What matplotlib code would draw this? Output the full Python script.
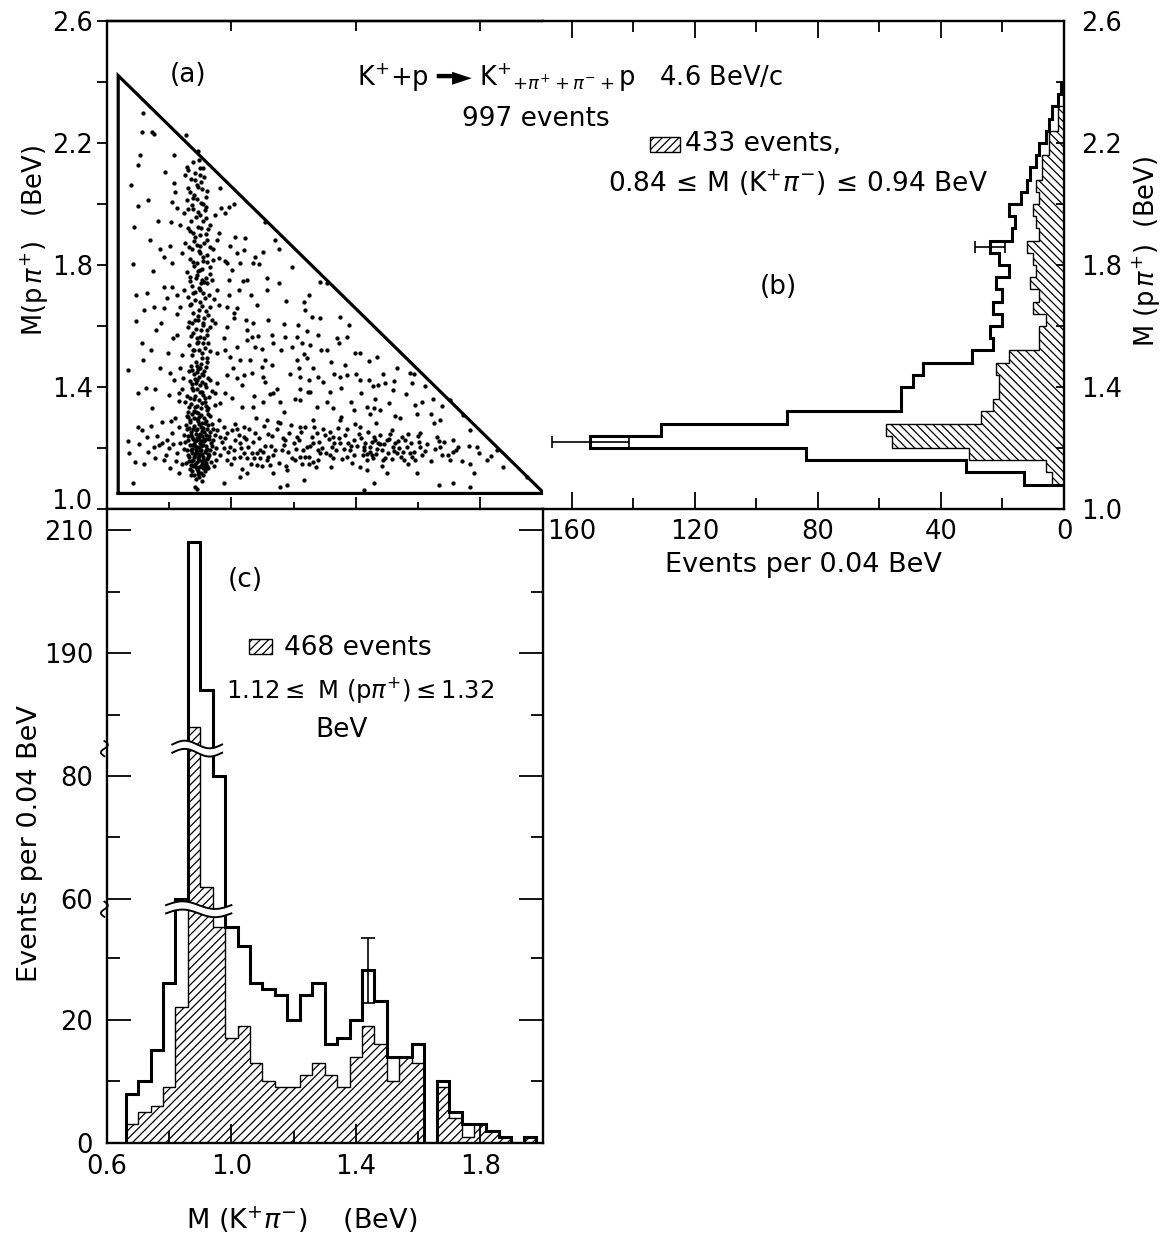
import numpy as np
import matplotlib
matplotlib.use("Agg")
import matplotlib.pyplot as plt
from matplotlib.patches import Rectangle
from matplotlib.ticker import FixedLocator, FixedFormatter, NullFormatter

W, H = 1168, 1237
plt.rcParams['font.family'] = ['DejaVu Sans']
plt.rcParams['mathtext.fontset'] = 'dejavusans'
plt.rcParams['hatch.linewidth'] = 0.9

# ---------------- data ----------------
# Dalitz-type plot: (M(K+pi-), M(p pi+)) in BeV
dalitz_points = [
    (0.717, 2.297), (0.712, 2.237), (0.744, 2.237), (0.752, 2.229), (0.855, 2.226), (0.707, 2.160),
    (0.814, 2.160), (0.892, 2.175), (0.895, 2.144), (0.878, 2.139), (0.701, 2.128),
    (0.862, 2.111), (0.851, 2.095), (0.910, 2.117), (0.900, 2.095), (0.884, 2.079), (0.894, 2.057),
    (0.905, 2.048), (0.814, 2.068), (0.819, 2.040), (0.808, 2.007), (0.825, 1.986), (0.857, 2.013),
    (0.891, 2.018), (0.910, 2.000), (0.919, 1.991), (0.900, 1.964), (0.919, 1.953), (0.948, 1.964),
    (0.966, 1.986), (0.991, 1.991), (1.007, 2.000), (0.980, 1.971), (0.932, 1.931), (0.699, 1.994),
    (0.867, 2.040), (0.846, 1.969), (0.878, 1.982), (0.894, 1.926), (0.835, 1.931), (0.859, 1.920),
    (0.878, 1.904), (0.900, 1.898), (0.921, 1.882), (0.953, 1.882), (0.959, 1.904), (0.889, 1.865),
    (0.851, 1.871), (0.932, 1.860), (0.771, 1.854), (0.841, 1.838), (0.782, 1.827), (0.808, 1.805),
    (0.900, 1.838), (0.910, 1.827), (0.889, 1.805), (0.921, 1.811), (0.942, 1.816), (0.959, 1.822),
    (0.985, 1.805), (1.001, 1.783), (1.028, 1.805), (1.018, 1.838), (1.044, 1.887), (1.039, 1.849),
    (1.076, 1.827), (1.103, 1.844), (1.109, 1.940), (1.141, 1.882), (1.152, 1.854), (1.194, 1.794),
    (1.071, 1.805), (0.900, 1.783), (0.905, 1.751), (0.921, 1.740), (0.937, 1.751), (0.953, 1.718),
    (0.900, 1.718), (0.878, 1.707), (0.910, 1.707), (0.728, 1.707), (0.792, 1.691), (0.825, 1.701),
    (0.808, 1.729), (0.846, 1.718), (1.114, 1.756), (1.114, 1.718), (1.286, 1.745), (1.307, 1.740),
    (0.867, 1.762), (0.889, 1.767), (0.932, 1.794), (0.991, 1.751), (1.023, 1.718), (1.050, 1.751),
    (0.750, 1.663), (0.782, 1.658), (0.835, 1.663), (0.867, 1.669), (0.900, 1.680), (0.932, 1.663),
    (0.959, 1.669), (0.985, 1.663), (1.007, 1.641), (1.018, 1.658), (1.082, 1.669), (1.232, 1.680),
    (1.237, 1.652), (1.259, 1.630), (1.286, 1.625), (1.348, 1.630), (1.377, 1.603), (1.371, 1.565),
    (0.825, 1.570), (0.873, 1.609), (0.894, 1.620), (0.910, 1.609), (0.921, 1.587), (0.900, 1.565),
    (0.889, 1.543), (0.910, 1.543), (0.932, 1.598), (0.948, 1.609), (0.985, 1.598), (1.007, 1.625),
    (1.050, 1.587), (1.066, 1.565), (1.050, 1.554), (1.076, 1.532), (1.135, 1.543), (1.130, 1.570),
    (1.173, 1.565), (1.210, 1.565), (1.227, 1.543), (1.253, 1.537), (1.307, 1.521), (1.345, 1.543),
    (1.414, 1.510), (1.468, 1.499), (0.717, 1.488), (0.841, 1.505), (0.878, 1.521), (0.905, 1.510),
    (0.921, 1.494), (0.953, 1.510), (0.980, 1.521), (0.996, 1.499), (1.028, 1.488), (1.109, 1.488),
    (1.210, 1.488), (1.243, 1.494),
    (0.669, 1.455), (0.803, 1.445), (0.835, 1.461), (0.873, 1.455), (0.889, 1.450), (0.900, 1.461),
    (0.910, 1.439), (0.889, 1.423), (0.900, 1.406), (0.878, 1.390), (0.905, 1.384), (0.841, 1.395),
    (0.830, 1.379), (0.755, 1.395), (0.701, 1.379), (0.744, 1.330), (0.798, 1.374), (0.932, 1.423),
    (0.953, 1.412), (0.948, 1.379), (0.980, 1.379), (0.964, 1.346), (1.001, 1.363), (0.985, 1.439),
    (1.018, 1.428), (1.039, 1.439), (1.066, 1.445), (1.098, 1.466), (1.109, 1.417), (1.135, 1.379),
    (1.157, 1.352), (1.168, 1.319), (1.216, 1.461), (1.221, 1.434), (1.248, 1.423), (1.221, 1.395),
    (1.253, 1.384), (1.280, 1.434), (1.318, 1.384), (1.350, 1.434), (1.371, 1.439), (1.414, 1.423),
    (1.441, 1.423), (1.473, 1.406), (1.495, 1.412), (1.521, 1.390), (1.575, 1.445), (1.580, 1.412),
    (1.612, 1.352), (1.436, 1.335), (1.457, 1.330), (1.478, 1.324), (1.328, 1.330), (1.275, 1.335),
    (1.221, 1.357), (1.103, 1.352), (1.071, 1.335), (1.034, 1.335), (0.905, 1.346), (0.884, 1.335),
    (0.916, 1.363), (0.867, 1.363), (0.926, 1.330),
    (0.691, 1.155), (0.701, 1.270), (0.712, 1.259), (0.728, 1.237), (0.733, 1.188), (0.750, 1.204),
    (0.755, 1.166), (0.766, 1.210), (0.776, 1.286), (0.776, 1.215), (0.792, 1.226), (0.798, 1.199),
    (0.808, 1.248), (0.819, 1.297), (0.825, 1.182), (0.835, 1.215), (0.841, 1.149), (0.685, 1.084),
    (0.782, 1.160), (0.803, 1.133), (0.830, 1.117),
    (0.959, 1.292), (0.975, 1.270), (0.964, 1.237), (0.985, 1.248), (1.001, 1.259), (1.012, 1.226),
    (1.028, 1.215), (1.039, 1.237), (1.055, 1.204), (1.066, 1.182), (1.050, 1.166), (1.082, 1.182),
    (1.093, 1.166), (1.103, 1.188), (1.114, 1.160), (1.125, 1.144), (1.135, 1.177), (1.162, 1.193),
    (1.173, 1.226), (1.200, 1.215), (1.210, 1.237), (1.221, 1.171), (1.227, 1.149), (1.243, 1.204),
    (1.264, 1.215), (1.275, 1.248), (1.280, 1.193), (1.286, 1.182), (1.318, 1.253), (1.323, 1.204),
    (1.328, 1.237), (1.350, 1.215), (1.371, 1.171), (1.382, 1.193), (1.393, 1.226), (1.414, 1.270),
    (1.425, 1.193), (1.436, 1.160), (1.446, 1.204), (1.452, 1.177), (1.457, 1.237), (1.473, 1.215),
    (1.484, 1.193), (1.489, 1.160), (1.500, 1.226), (1.521, 1.204), (1.532, 1.182), (1.548, 1.237),
    (1.554, 1.160), (1.564, 1.204), (1.575, 1.182), (1.591, 1.160), (1.596, 1.117), (1.607, 1.204),
    (1.661, 1.237), (1.671, 1.204), (1.677, 1.177), (1.704, 1.160), (1.714, 1.226), (1.730, 1.204),
    (1.768, 1.259), (1.789, 1.204), (1.822, 1.160), (1.854, 1.193), (1.950, 1.106), (1.650, 1.281),
    (1.607, 1.248), (1.516, 1.259), (1.414, 1.139), (1.436, 1.128), (1.500, 1.117), (1.328, 1.166),
    (1.264, 1.155), (1.178, 1.128), (1.135, 1.117), (1.082, 1.144), (1.028, 1.171), (1.007, 1.193),
    (0.985, 1.160), (0.975, 1.199), (0.953, 1.259), (1.039, 1.270), (1.114, 1.292), (1.157, 1.281),
    (1.221, 1.270), (1.264, 1.292), (1.350, 1.292), (1.393, 1.324), (1.446, 1.313), (1.543, 1.297),
    (1.596, 1.313), (1.671, 1.292), (1.746, 1.308), (1.768, 1.149), (1.779, 1.117), (1.666, 1.078),
    (1.714, 1.084), (1.768, 1.073), (1.425, 1.062), (1.457, 1.084), (1.157, 1.073), (1.178, 1.078),
    (1.232, 1.095), (0.975, 1.084), (1.028, 1.106), (1.050, 1.117), (0.884, 1.073), (0.891, 1.066),
    (0.862, 1.301), (0.874, 1.312), (0.889, 1.296), (0.903, 1.308), (0.918, 1.290), (0.931, 1.304),
    (0.868, 1.284), (0.881, 1.271), (0.896, 1.279), (0.909, 1.266), (0.924, 1.275), (0.942, 1.262),
    (0.856, 1.262), (0.871, 1.251), (0.885, 1.258), (0.899, 1.245), (0.913, 1.252), (0.927, 1.239),
    (0.947, 1.244), (0.861, 1.238), (0.876, 1.228), (0.890, 1.234), (0.905, 1.222), (0.919, 1.229),
    (0.934, 1.217), (0.852, 1.219), (0.866, 1.209), (0.880, 1.214), (0.894, 1.203), (0.908, 1.210),
    (0.923, 1.198), (0.938, 1.206), (0.858, 1.192), (0.872, 1.185), (0.886, 1.190), (0.900, 1.180),
    (0.914, 1.187), (0.929, 1.176), (0.945, 1.183), (0.864, 1.170), (0.878, 1.162), (0.892, 1.168),
    (0.906, 1.157), (0.920, 1.164), (0.935, 1.153), (0.853, 1.150), (0.869, 1.143), (0.883, 1.148),
    (0.897, 1.138), (0.911, 1.145), (0.926, 1.133), (0.874, 1.125), (0.888, 1.130), (0.902, 1.119),
    (0.916, 1.126), (0.880, 1.110), (0.895, 1.105),
    (0.867, 1.293), (0.893, 1.288), (0.912, 1.298), (0.878, 1.262), (0.902, 1.268), (0.932, 1.252),
    (0.870, 1.243), (0.895, 1.240), (0.917, 1.244), (0.883, 1.222), (0.898, 1.215), (0.912, 1.231),
    (0.873, 1.197), (0.887, 1.201), (0.903, 1.195), (0.917, 1.205), (0.931, 1.192), (0.859, 1.178),
    (0.882, 1.176), (0.896, 1.173), (0.909, 1.170), (0.925, 1.181), (0.874, 1.156), (0.889, 1.153),
    (0.904, 1.149), (0.917, 1.152), (0.866, 1.131), (0.893, 1.124), (0.908, 1.134), (0.921, 1.140),
    (0.885, 1.183), (0.899, 1.192), (0.876, 1.210), (0.891, 1.226), (0.907, 1.238), (0.885, 1.247),
    (0.906, 1.283), (0.924, 1.312), (0.886, 1.318), (0.854, 1.276),
    (0.862, 2.052), (0.881, 2.031), (0.903, 2.071), (0.917, 2.024), (0.872, 1.998), (0.893, 1.975),
    (0.908, 1.944), (0.926, 1.918), (0.866, 1.911), (0.884, 1.893), (0.912, 1.872), (0.874, 1.851),
    (0.897, 1.846), (0.921, 1.833), (0.941, 1.851), (0.867, 1.820), (0.881, 1.796), (0.904, 1.788),
    (0.931, 1.772), (0.858, 1.776), (0.886, 1.759), (0.912, 1.744), (0.872, 1.731), (0.895, 1.726),
    (0.927, 1.703), (0.944, 1.689), (0.861, 1.694), (0.883, 1.684), (0.906, 1.665), (0.919, 1.648),
    (0.876, 1.643), (0.893, 1.633), (0.912, 1.626), (0.937, 1.620), (0.865, 1.612), (0.885, 1.591),
    (0.902, 1.586), (0.923, 1.572), (0.871, 1.566), (0.889, 1.562), (0.915, 1.528), (0.897, 1.521),
    (0.874, 1.505), (0.931, 1.517), (0.885, 1.483), (0.903, 1.476), (0.918, 1.466), (0.869, 1.470),
    (0.894, 1.458), (0.912, 1.452), (0.879, 1.441), (0.897, 1.433), (0.925, 1.430), (0.866, 1.421),
    (0.885, 1.414), (0.906, 1.418), (0.918, 1.401), (0.873, 1.398), (0.891, 1.392), (0.909, 1.375),
    (0.928, 1.368), (0.858, 1.371), (0.880, 1.362), (0.897, 1.357), (0.914, 1.352), (0.869, 1.344),
    (0.888, 1.339), (0.903, 1.330), (0.921, 1.325), (0.879, 1.322), (0.893, 1.314), (0.862, 1.318),
    (0.947, 1.341), (0.851, 1.352), (0.937, 1.387), (0.845, 1.430),
    (0.971, 1.221), (0.989, 1.186), (1.013, 1.279), (1.024, 1.243), (1.041, 1.183), (1.057, 1.262),
    (1.068, 1.221), (1.079, 1.298), (1.088, 1.233), (1.097, 1.142), (1.119, 1.247), (1.128, 1.206),
    (1.146, 1.262), (1.153, 1.152), (1.165, 1.233), (1.181, 1.188), (1.192, 1.276), (1.204, 1.162),
    (1.216, 1.226), (1.229, 1.193), (1.238, 1.268), (1.251, 1.172), (1.259, 1.237), (1.271, 1.139),
    (1.283, 1.219), (1.296, 1.262), (1.305, 1.183), (1.314, 1.228), (1.336, 1.193), (1.343, 1.264),
    (1.357, 1.165), (1.364, 1.242), (1.376, 1.218), (1.388, 1.151), (1.397, 1.279), (1.405, 1.207),
    (1.418, 1.232), (1.422, 1.176), (1.431, 1.215), (1.439, 1.251), (1.447, 1.188), (1.456, 1.166),
    (1.462, 1.227), (1.468, 1.198), (1.477, 1.241), (1.483, 1.141), (1.492, 1.212), (1.503, 1.183),
    (1.511, 1.247), (1.518, 1.165), (1.527, 1.218), (1.539, 1.199), (1.546, 1.171), (1.558, 1.226),
    (1.569, 1.148), (1.577, 1.215), (1.586, 1.187), (1.599, 1.239), (1.613, 1.176), (1.628, 1.212),
    (1.642, 1.158), (1.655, 1.196), (1.683, 1.219), (1.697, 1.176), (1.722, 1.193), (1.741, 1.157),
    (1.763, 1.205), (1.797, 1.183), (1.834, 1.174), (1.872, 1.139), (0.998, 1.149), (1.035, 1.131),
    (1.072, 1.166), (1.108, 1.208), (1.177, 1.141), (1.248, 1.148), (1.321, 1.139), (1.353, 1.302),
    (1.466, 1.281), (1.525, 1.306),
    (0.682, 1.802), (0.693, 1.615), (0.711, 1.543), (0.725, 1.398), (0.738, 1.881), (0.756, 1.588),
    (0.769, 1.462), (0.783, 1.727), (0.797, 1.512), (0.806, 1.941), (0.815, 1.422), (0.826, 1.638),
    (0.832, 1.354), (0.975, 1.562), (0.992, 1.701), (1.004, 1.462), (1.017, 1.532), (1.033, 1.408),
    (1.046, 1.619), (1.061, 1.488), (1.073, 1.371), (1.086, 1.566), (1.102, 1.433), (1.118, 1.621),
    (1.131, 1.472), (1.147, 1.393), (1.161, 1.522), (1.176, 1.681), (1.188, 1.441), (1.203, 1.362),
    (1.214, 1.603), (1.232, 1.508), (1.247, 1.382), (1.262, 1.462), (1.278, 1.572), (1.293, 1.418),
    (1.306, 1.351), (1.321, 1.483), (1.338, 1.561), (1.352, 1.398), (1.366, 1.472), (1.383, 1.352),
    (1.401, 1.441), (1.418, 1.381), (1.442, 1.486), (1.462, 1.362), (1.487, 1.441), (1.508, 1.349),
    (1.532, 1.461), (1.561, 1.377), (1.592, 1.341), (1.621, 1.402), (1.648, 1.361), (1.676, 1.338),
    (1.703, 1.357), (1.251, 1.702), (1.152, 1.741), (1.089, 1.802), (1.062, 1.702), (0.996, 1.861),
    (0.857, 2.121), (0.884, 2.102), (0.899, 2.118), (0.871, 2.083), (0.913, 2.087), (0.889, 2.061),
    (0.923, 2.043), (0.875, 2.021), (0.902, 2.004), (0.859, 1.985), (0.914, 1.981), (0.887, 1.957),
    (0.869, 1.943), (0.903, 1.921), (0.917, 1.903), (0.881, 1.879), (0.898, 1.863), (0.864, 1.858),
    (0.909, 1.812), (0.876, 1.809), (0.894, 1.781), (0.919, 1.759), (0.868, 1.748), (0.901, 1.742),
    (0.883, 1.712), (0.914, 1.691), (0.871, 1.671), (0.896, 1.652), (0.924, 1.637), (0.882, 1.619),
    (0.908, 1.604), (0.859, 1.597), (0.877, 1.578), (0.911, 1.561), (0.893, 1.546), (0.864, 1.538),
    (0.925, 1.545), (0.881, 1.522), (0.906, 1.496), (0.889, 1.469), (0.921, 1.482), (0.863, 1.452),
    (0.905, 1.442), (0.883, 1.427), (0.914, 1.409), (0.872, 1.409), (0.899, 1.382), (0.884, 1.371),
    (0.917, 1.338), (0.863, 1.333),
    (0.962, 1.178), (0.981, 1.233), (0.994, 1.204), (1.008, 1.168), (1.019, 1.261), (1.031, 1.199),
    (1.047, 1.228), (1.063, 1.147), (1.076, 1.248), (1.091, 1.192), (1.106, 1.271), (1.117, 1.171),
    (1.129, 1.239), (1.139, 1.195), (1.151, 1.286), (1.169, 1.209), (1.186, 1.249), (1.196, 1.167),
    (1.209, 1.198), (1.223, 1.251), (1.236, 1.171), (1.254, 1.207), (1.266, 1.268), (1.278, 1.161),
    (1.291, 1.199), (1.302, 1.242), (1.317, 1.176), (1.331, 1.217), (1.346, 1.234), (1.361, 1.196),
    (1.372, 1.262), (1.385, 1.207), (1.394, 1.176), (1.409, 1.246), (1.427, 1.203), (1.437, 1.179),
    (1.451, 1.221), (1.465, 1.181), (1.479, 1.213), (1.495, 1.168), (1.506, 1.231), (1.522, 1.191),
    (1.535, 1.222), (1.552, 1.186), (1.567, 1.246), (1.582, 1.171), (1.603, 1.221), (1.621, 1.189),
    (1.667, 1.223), (1.713, 1.188),
    (0.858, 1.306), (0.879, 1.299), (0.897, 1.301), (0.915, 1.281), (0.939, 1.279), (0.863, 1.267),
    (0.889, 1.263), (0.906, 1.257), (0.921, 1.262), (0.874, 1.236), (0.896, 1.229), (0.913, 1.223),
    (0.929, 1.228), (0.859, 1.226), (0.884, 1.206), (0.902, 1.206), (0.918, 1.193), (0.869, 1.195),
    (0.891, 1.186), (0.907, 1.181), (0.924, 1.169), (0.879, 1.171), (0.896, 1.162), (0.913, 1.161),
    (0.864, 1.158), (0.885, 1.139), (0.901, 1.142), (0.918, 1.135), (0.877, 1.141), (0.893, 1.116),
    (0.909, 1.113), (0.871, 1.113), (0.886, 1.098), (0.904, 1.092), (0.942, 1.226), (0.949, 1.199),
    (0.951, 1.161), (0.846, 1.241), (0.848, 1.196), (0.943, 1.141),
    (0.668, 1.222), (0.677, 2.061), (0.688, 1.923), (0.694, 1.701), (0.719, 1.652), (0.731, 2.012),
    (0.742, 1.522), (0.748, 1.781), (0.763, 1.944), (0.774, 1.611), (0.787, 2.105), (0.802, 1.862),
    (0.811, 1.562), (0.964, 2.051), (0.978, 1.812), (1.012, 1.891), (1.036, 1.748), (1.071, 1.611),
    (1.097, 1.523), (1.124, 1.378), (1.168, 1.608), (1.196, 1.531), (1.244, 1.583), (1.288, 1.521),
    (1.331, 1.442), (1.396, 1.512), (1.455, 1.402), (1.524, 1.421), (1.587, 1.442), (1.642, 1.312),
    (0.672, 1.185), (0.704, 1.212), (0.719, 1.148), (0.741, 1.271), (0.762, 1.239), (0.789, 1.178),
    (0.812, 1.214), (0.821, 1.156), (0.833, 1.268), (0.806, 1.288),
]
kpi_mass = [p[0] for p in dalitz_points]
ppi_mass = [p[1] for p in dalitz_points]

# kinematic boundary of the plot (BeV)
KPI_MIN, PPI_MIN, MASS_SUM = 0.636, 1.051, 3.057

# (b) M(p pi+) projections, 0.04 BeV bins
ppi_edges = np.round(np.arange(1.08, 2.4001, 0.04), 2)
ppi_all = [13, 32, 84, 154, 131, 90, 53, 53, 49, 46, 30, 23, 24, 20, 23, 20, 22,
           18, 21, 24, 17, 16, 18, 14, 12, 11, 9, 8, 6, 5, 4, 2, 1]
ppi_kstar = [4, 6, 31, 56, 58, 27, 23, 21, 21, 22, 18, 8, 8, 6, 10, 8, 11,
             9, 10, 12, 8, 9, 10, 8, 9, 7, 7, 5, 5, 2, 2, 0, 0]
ppi_err_points = [(1.22, 154, 12.4), (1.86, 24, 4.9)]

# (c) M(K+ pi-) projections, 0.04 BeV bins
kpi_edges = np.round(np.arange(0.66, 1.9801, 0.04), 2)
kpi_all = [8, 10, 15, 26, 60, 208, 184, 80, 35, 32, 26, 25, 24, 20, 24, 26, 16,
           17, 20, 28, 23, 14, 14, 16, 0, 10, 5, 3, 3, 2, 1, 0, 1]
kpi_delta = [3, 5, 6, 9, 22, 178, 62, 35, 17, 19, 13, 10, 9, 9, 11, 13, 11,
             9, 14, 19, 16, 10, 14, 13, 0, 9, 4, 1, 3, 2, 1, 0, 1]
kpi_err_point = (1.44, 28, 5.3)

mass_ticks = [1.0, 1.4, 1.8, 2.2, 2.6]
mass_minor = [1.2, 1.6, 2.0, 2.4]
kpi_ticks = [0.6, 1.0, 1.4, 1.8]
kpi_minor = [0.8, 1.2, 1.6]
count_ticks_b = [0, 40, 80, 120, 160]
count_minor_b = [20, 60, 100, 140]
count_ticks_c = [0, 20, 60, 80, 190, 210]
count_minor_c = [10, 30, 70, 180, 200]

# broken count axis for (c): three linear pieces with two gaps
brk_val = np.array([-1e4, 37.9, 58.4, 84.4, 174.6, 1e4])
brk_dsp = np.array([-1e4, 37.9, 37.95, 63.95, 64.0, 64.0 + 1e4 - 174.6])


def fwd(v):
    return np.interp(v, brk_val, brk_dsp)


def inv(d):
    return np.interp(d, brk_dsp, brk_val)


# ---------------- figure ----------------
fig = plt.figure(figsize=(W / 100, H / 100), dpi=100)


def box(x0, y0, x1, y1):
    return [x0 / W, 1 - y1 / H, (x1 - x0) / W, (y1 - y0) / H]


def ftext(x, y, s, **kw):
    kw.setdefault('ha', 'center')
    kw.setdefault('va', 'center')
    kw.setdefault('fontsize', 19)
    fig.text(x / W, 1 - y / H, s, **kw)


FS = 18.5
LW = 1.7

ax_a = fig.add_axes(box(107, 21, 543, 509))
ax_b = fig.add_axes(box(543, 21, 1064, 509))
ax_c = fig.add_axes(box(107, 509, 543, 1143))

# ---- (a) scatter ----
ax_a.set_xlim(0.6, 2.002)
ax_a.set_ylim(1.0, 2.6)
ax_a.plot(kpi_mass, ppi_mass, 'o', ms=3.1, mew=0, color='black')
ax_a.plot([KPI_MIN, KPI_MIN, MASS_SUM - PPI_MIN, KPI_MIN],
          [PPI_MIN, MASS_SUM - KPI_MIN, PPI_MIN, PPI_MIN],
          color='black', lw=2.3, clip_on=False, solid_joinstyle='miter')
ax_a.spines['right'].set_visible(False)
ax_a.yaxis.set_major_locator(FixedLocator(mass_ticks))
ax_a.yaxis.set_minor_locator(FixedLocator(mass_minor))
# the lowest label sits just above the shared corner, drawn separately below
ax_a.yaxis.set_major_formatter(FixedFormatter([""] + [f"{t:.1f}" for t in mass_ticks[1:]]))
ax_a.tick_params(axis='y', which='both', direction='out', length=7, width=1.3,
                 labelsize=FS, pad=3)
ax_a.xaxis.set_major_locator(FixedLocator([1.0, 1.4, 1.8]))
ax_a.xaxis.set_minor_locator(FixedLocator(kpi_minor))
ax_a.tick_params(axis='x', which='major', direction='inout', length=18, width=1.3,
                 bottom=True, top=False, labelbottom=False)
ax_a.tick_params(axis='x', which='minor', direction='inout', length=10, width=1.3,
                 bottom=True, top=False)
top_a = ax_a.secondary_xaxis('top')
top_a.set_xticks([1.0, 1.4, 1.8])
top_a.tick_params(direction='in', length=7, width=1.3, labeltop=False)
top_a.spines['top'].set_linewidth(LW)
ax_a.set_ylabel(r"M(p$\,\pi^{+}$)   (BeV)", fontsize=FS, va='center', ha='center')
ax_a.yaxis.set_label_coords((35 - 107) / 436, (509 - 241) / 488)
ftext(92, 502, "1.0", ha='right', fontsize=FS)

# ---- (b) M(p pi+) projection ----
ax_b.set_xlim(169.4, 0)
ax_b.set_ylim(1.0, 2.6)
ax_b.stairs(ppi_kstar, ppi_edges, orientation='horizontal', baseline=0, fill=True,
            facecolor='white', edgecolor='black', hatch='\\\\\\\\', lw=1.0)
ax_b.stairs(ppi_all, ppi_edges, orientation='horizontal', baseline=0, fill=False,
            color='black', lw=2.2)
for m, n, e in ppi_err_points:
    ax_b.errorbar(n, m, xerr=e, fmt='none', ecolor='black', elinewidth=1.2,
                  capsize=4, capthick=1.2)
ax_b.spines['left'].set_visible(False)
ax_b.xaxis.set_major_locator(FixedLocator(count_ticks_b))
ax_b.xaxis.set_minor_locator(FixedLocator(count_minor_b))
ax_b.xaxis.set_major_formatter(FixedFormatter([str(t) for t in count_ticks_b]))
ax_b.tick_params(axis='x', which='major', direction='in', length=12, width=1.3,
                 top=True, bottom=True, labelsize=FS, pad=7)
ax_b.tick_params(axis='x', which='minor', direction='in', length=8, width=1.3,
                 top=True, bottom=True)
ax_b.yaxis.tick_right()
ax_b.yaxis.set_major_locator(FixedLocator(mass_ticks))
ax_b.yaxis.set_minor_locator(FixedLocator(mass_minor))
ax_b.yaxis.set_major_formatter(FixedFormatter([f"{t:.1f}" for t in mass_ticks]))
ax_b.tick_params(axis='y', which='both', direction='in', length=6, width=1.3,
                 left=False, right=True, labelleft=False, labelright=True,
                 labelsize=FS, pad=12)
ax_b.set_xlabel("Events per 0.04 BeV", fontsize=19.5, labelpad=5)
ax_b.yaxis.set_label_position('right')
ax_b.set_ylabel(r"M (p$\,\pi^{+}$)  (BeV)", fontsize=FS, rotation=90,
                va='center', ha='center')
ax_b.yaxis.set_label_coords((1147 - 543) / 521, (509 - 252) / 488)

# ---- (c) M(K+ pi-) projection with broken count axis ----
ax_c.set_xlim(0.6, 2.002)
ax_c.set_yscale('function', functions=(fwd, inv))
ax_c.set_ylim(0, 213.4)
ax_c.stairs(kpi_delta, kpi_edges, baseline=0, fill=True, facecolor='white',
            edgecolor='black', hatch='////', lw=1.0)
ax_c.stairs(kpi_all, kpi_edges, baseline=0, fill=False, color='black', lw=2.2)
ax_c.errorbar(kpi_err_point[0], kpi_err_point[1], yerr=kpi_err_point[2], fmt='none',
              ecolor='black', elinewidth=1.2, capsize=5, capthick=1.2)
ax_c.xaxis.set_major_locator(FixedLocator(kpi_ticks))
ax_c.xaxis.set_minor_locator(FixedLocator(kpi_minor))
ax_c.xaxis.set_major_formatter(FixedFormatter([f"{t:.1f}" for t in kpi_ticks]))
ax_c.tick_params(axis='x', which='major', direction='in', length=14, width=1.3,
                 top=False, labelsize=FS, pad=8)
ax_c.tick_params(axis='x', which='minor', direction='in', length=9, width=1.3, top=False)
ax_c.yaxis.set_major_locator(FixedLocator(count_ticks_c))
ax_c.yaxis.set_minor_locator(FixedLocator(count_minor_c))
ax_c.yaxis.set_major_formatter(FixedFormatter([str(t) for t in count_ticks_c]))
ax_c.yaxis.set_minor_formatter(NullFormatter())
ax_c.tick_params(axis='y', which='major', direction='in', length=17, width=1.3,
                 left=True, right=True, labelsize=FS, pad=10)
ax_c.tick_params(axis='y', which='minor', direction='in', length=9, width=1.3,
                 left=True, right=True)
ax_c.set_ylabel("Events per 0.04 BeV", fontsize=19.5, va='center', ha='center')
ax_c.yaxis.set_label_coords((30 - 107) / 436, (1143 - 844) / 634)
ax_c.set_xlabel(r"M (K$^{+}\pi^{-}$)    (BeV)", fontsize=19.5, va='center', ha='center')
ax_c.xaxis.set_label_coords((302 - 107) / 436, -(1220 - 1143) / 634)

# break marks across the tall bins and on the left axis
top_d = fwd(213.4)
xt = ax_c.get_xaxis_transform()
for v_brk, x0, x1 in [(38.0, 0.79, 1.0), (84.4, 0.81, 0.97)]:
    yf = fwd(v_brk) / top_d
    xs = np.linspace(x0, x1, 60)
    t = (xs - x0) / (x1 - x0)
    wig = 0.006 * np.sin(2 * np.pi * t)
    gap = 0.0065
    lo = yf - gap + wig
    hi = yf + gap + wig
    ax_c.fill_between(xs, lo, hi, transform=xt, color='white', zorder=5, lw=0)
    ax_c.plot(xs, lo, transform=xt, color='black', lw=1.4, zorder=6)
    ax_c.plot(xs, hi, transform=xt, color='black', lw=1.4, zorder=6)
    s = np.linspace(-1, 1, 30)
    ax_c.plot(-0.006 + 0.008 * np.sin(np.pi * s), yf + 0.012 * s, transform=ax_c.transAxes,
              color='black', lw=1.3, clip_on=False, zorder=7)

for ax in (ax_a, ax_b, ax_c):
    for sp in ax.spines.values():
        sp.set_linewidth(LW)

# ---- annotations ----
ftext(188, 75, "(a)")
ftext(357, 78, "K$^{+}$+p \u2501\u25ba K$^{+}$$_{+\\pi^{+}+\\pi^{-}+}$p   4.6 BeV/c",
      ha='left', fontsize=18.5)
ftext(536, 119, "997 events")
fig.add_artist(Rectangle((650 / W, 1 - 152 / H), 30 / W, 15 / H, transform=fig.transFigure,
                         facecolor='white', edgecolor='black', hatch='////', lw=1.0))
ftext(685, 144, "433 events,", ha='left')
ftext(798, 183, r"0.84$\,\leq\,$M (K$^{+}\pi^{-}$)$\,\leq\,$0.94 BeV")
ftext(778, 287, "(b)")
ftext(245, 580, "(c)")
fig.add_artist(Rectangle((249 / W, 1 - 654 / H), 23 / W, 15 / H, transform=fig.transFigure,
                         facecolor='white', edgecolor='black', hatch='////', lw=1.0))
ftext(284, 648, "468 events", ha='left')
ftext(360, 690, r"1.12$\leq$ M (p$\pi^{+}$)$\leq$1.32", fontsize=17.5)
ftext(342, 730, "BeV")

fig.savefig("out.png", dpi=100, facecolor='white')
